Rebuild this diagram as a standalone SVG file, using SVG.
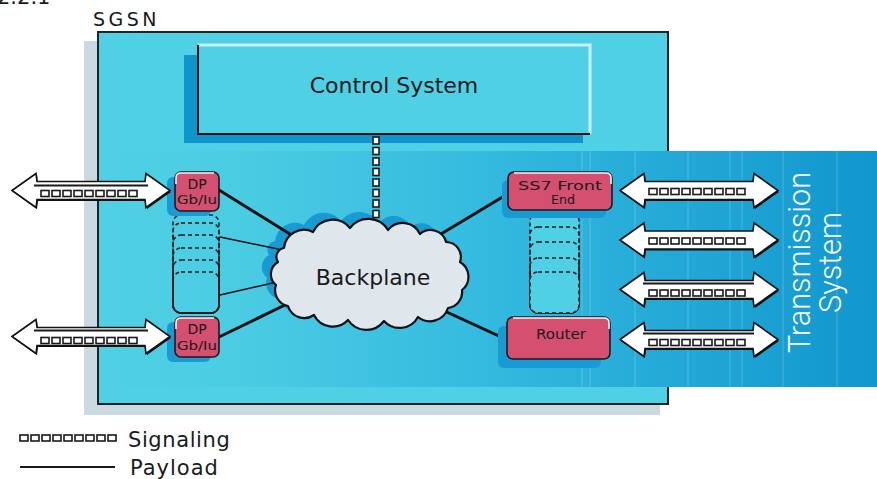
<svg xmlns="http://www.w3.org/2000/svg" width="877" height="479" viewBox="0 0 877 479">
  <defs>
    <linearGradient id="bandGrad" gradientUnits="userSpaceOnUse" x1="99" y1="0" x2="877" y2="0">
      <stop offset="0" stop-color="#4fd0e4"/>
      <stop offset="0.18" stop-color="#4acce3"/>
      <stop offset="0.5" stop-color="#34badf"/>
      <stop offset="1" stop-color="#1196ce"/>
    </linearGradient>
    <!-- double-headed block arrow, left tip at origin -->
    <path id="arrowShape" d="M0,0 L24,-17 L25,-9 L133,-9 L134,-17 L158,0 L134,17 L133,9 L25,9 L24,17 Z"/>
    <!-- row of signaling squares -->
    <g id="sigRow" class="sq">
      <rect x="29" y="-3" width="8" height="6"/>
      <rect x="40" y="-3" width="8" height="6"/>
      <rect x="51" y="-3" width="8" height="6"/>
      <rect x="62" y="-3" width="8" height="6"/>
      <rect x="73" y="-3" width="8" height="6"/>
      <rect x="84" y="-3" width="8" height="6"/>
      <rect x="95" y="-3" width="8" height="6"/>
      <rect x="106" y="-3" width="8" height="6"/>
      <rect x="117" y="-3" width="8" height="6"/>
    </g>
    <path id="cloudShape" d="M284,248 A20,20 0 0 1 313,232 A22,22 0 0 1 350,228 A23,23 0 0 1 388,230 A19,19 0 0 1 420,234 A16,16 0 0 1 446,242 A15,15 0 0 1 460,262 A17,17 0 0 1 462,290 A16,16 0 0 1 448,308 A19,19 0 0 1 418,317 A21,21 0 0 1 384,321 A22,22 0 0 1 348,320 A21,21 0 0 1 314,315 A17,17 0 0 1 288,306 A16,16 0 0 1 276,285 A14,14 0 0 1 278,262 A9,9 0 0 1 284,248 Z"/>
  </defs>
  <style>
    text { font-family: "DejaVu Sans", "Liberation Sans", sans-serif; fill: #1a1a1a; }
    .sq rect { fill: #ffffff; stroke: #1a1a1a; stroke-width: 1.6; }
    .arrow-body { fill: #ffffff; stroke: #111111; stroke-width: 1.6; stroke-linejoin: miter; }
    .arrow-shadow { fill: #111111; }
    .payload { stroke: #1a1a1a; stroke-width: 2; }
    .thick { stroke: #111111; stroke-width: 3; stroke-linecap: round; }
    .thin { stroke: #111111; stroke-width: 1.5; }
    .node { fill: #d44f70; stroke: #1a1a1a; stroke-width: 1.6; }
    .glow { fill: #1a9ad3; }
    .hl { stroke: #f4f4f4; stroke-width: 1.6; fill: none; }
    .stack { fill: #4fd0e4; stroke: #1a1a1a; stroke-width: 1.5; stroke-dasharray: 4 3; }
    .stack-open { fill: none; stroke: #1a1a1a; stroke-width: 1.5; stroke-dasharray: 4 3; }
    .vline { stroke: #ffffff; stroke-opacity: 0.14; stroke-width: 1.5; }
  </style>

  <!-- figure number, cut at the top edge -->
  <text x="-3" y="4" font-size="21">2.2.1</text>

  <!-- SGSN enclosure -->
  <g id="sgsn">
    <rect x="84" y="41" width="576" height="374" fill="#cbd9e0"/>
    <rect x="98" y="32" width="570" height="372" fill="#4fd0e4" stroke="#222222" stroke-width="2"/>
    <text x="93" y="26" font-size="19" letter-spacing="3.5">SGSN</text>
  </g>

  <!-- Transmission System band -->
  <g id="transmission-system">
    <rect x="99" y="151" width="778" height="236" fill="url(#bandGrad)"/>
    <line class="vline" x1="582" y1="151" x2="582" y2="387"/>
    <line class="vline" x1="590" y1="151" x2="590" y2="387"/>
    <line class="vline" x1="635" y1="151" x2="635" y2="387"/>
    <line class="vline" x1="688" y1="151" x2="688" y2="387"/>
    <line class="vline" x1="730" y1="151" x2="730" y2="387"/>
    <line class="vline" x1="742" y1="151" x2="742" y2="387"/>
    <line class="vline" x1="783" y1="151" x2="783" y2="387"/>
    <line class="vline" x1="837" y1="151" x2="837" y2="387"/>
    <text transform="translate(810,262.5) rotate(-90)" text-anchor="middle" font-size="31" textLength="181" lengthAdjust="spacingAndGlyphs" style="font-family:Roboto,'Liberation Sans',sans-serif;font-weight:300;fill:#ffffff">Transmission</text>
    <text transform="translate(841,262.5) rotate(-90)" text-anchor="middle" font-size="31" textLength="101" lengthAdjust="spacingAndGlyphs" style="font-family:Roboto,'Liberation Sans',sans-serif;font-weight:300;fill:#ffffff">System</text>
  </g>

  <!-- Control System -->
  <g id="control-system">
    <rect x="184" y="55" width="399" height="88" fill="#0f95cc"/>
    <rect x="198" y="45" width="392" height="89" fill="#4fd0e4"/>
    <polyline points="198,45 590,45 590,134" fill="none" stroke="#c9f1f8" stroke-width="3"/>
    <polyline points="198,45 198,134 590,134" fill="none" stroke="#111111" stroke-width="2"/>
    <text x="394" y="93" font-size="22" text-anchor="middle">Control System</text>
  </g>

  <!-- dashed link stacks -->
  <g id="dp-stack">
    <rect class="stack-open" x="173" y="215" width="46" height="98" rx="8"/>
    <rect class="stack-open" x="173" y="223" width="46" height="90" rx="8"/>
    <rect class="stack-open" x="173" y="235" width="46" height="78" rx="8"/>
    <rect class="stack-open" x="173" y="248" width="46" height="65" rx="8"/>
    <rect class="stack-open" x="173" y="260" width="46" height="53" rx="8"/>
    <rect class="stack-open" x="173" y="272" width="46" height="41" rx="8"/>
  </g>
  <g id="ss7-stack">
    <rect class="stack" x="530" y="213" width="49" height="100" rx="8"/>
    <rect class="stack-open" x="530" y="227" width="49" height="86" rx="8"/>
    <rect class="stack-open" x="530" y="242" width="49" height="71" rx="8"/>
    <rect class="stack-open" x="530" y="258" width="49" height="55" rx="8"/>
    <rect class="stack" x="530" y="272" width="49" height="41" rx="8"/>
  </g>

  <!-- blue glow behind the backplane -->
  <use href="#cloudShape" class="glow" transform="translate(-9,-7)"/>

  <!-- connectors -->
  <g id="connectors">
    <line class="thick" x1="219" y1="190" x2="298" y2="239"/>
    <line class="thin" x1="220" y1="237" x2="292" y2="252"/>
    <line class="thin" x1="220" y1="295" x2="286" y2="280"/>
    <line class="thick" x1="219" y1="337" x2="287" y2="304"/>
    <line class="thick" x1="514" y1="190" x2="436" y2="237"/>
    <line class="thick" x1="514" y1="343" x2="438" y2="308"/>
    <!-- signaling link Control System to Backplane -->
    <g class="sq">
      <rect x="373" y="137" width="6" height="7"/>
      <rect x="373" y="147.5" width="6" height="7"/>
      <rect x="373" y="158" width="6" height="7"/>
      <rect x="373" y="168.5" width="6" height="7"/>
      <rect x="373" y="179" width="6" height="7"/>
      <rect x="373" y="189.5" width="6" height="7"/>
      <rect x="373" y="200" width="6" height="7"/>
      <rect x="373" y="210.5" width="6" height="7"/>
      <rect x="373" y="221" width="6" height="7"/>
    </g>
  </g>

  <!-- Backplane -->
  <g id="backplane">
    <use href="#cloudShape" fill="#dfe6ec" stroke="#111111" stroke-width="2.2" stroke-linejoin="round"/>
    <text x="373" y="285" font-size="22" text-anchor="middle">Backplane</text>
  </g>

  <!-- DP Gb/Iu nodes -->
  <g id="dp-top">
    <rect class="glow" x="167" y="177" width="44" height="39" rx="6"/>
    <rect class="node" x="175" y="172" width="44" height="39" rx="6"/>
    <path class="hl" d="M176,184 L176,178 Q176,173 181,173 L214,173"/>
    <text x="197" y="189" font-size="14" text-anchor="middle">DP</text>
    <text x="197" y="204" font-size="12" text-anchor="middle" textLength="40" lengthAdjust="spacingAndGlyphs">Gb/Iu</text>
  </g>
  <g id="dp-bottom">
    <rect class="glow" x="167" y="322" width="44" height="40" rx="6"/>
    <rect class="node" x="175" y="317" width="44" height="40" rx="6"/>
    <path class="hl" d="M176,329 L176,323 Q176,318 181,318 L214,318"/>
    <text x="197" y="334" font-size="14" text-anchor="middle">DP</text>
    <text x="197" y="350" font-size="12" text-anchor="middle" textLength="40" lengthAdjust="spacingAndGlyphs">Gb/Iu</text>
  </g>

  <!-- SS7 Front End -->
  <g id="ss7-front-end">
    <rect class="glow" x="502" y="180" width="104" height="38" rx="6"/>
    <rect class="node" x="508" y="172" width="104" height="38" rx="6"/>
    <path class="hl" d="M514,173 L606,173 Q611,173 611,178 L611,184"/>
    <text x="560" y="190" font-size="13" text-anchor="middle" textLength="84" lengthAdjust="spacingAndGlyphs">SS7 Front</text>
    <text x="563" y="204" font-size="13" text-anchor="middle" textLength="24" lengthAdjust="spacingAndGlyphs">End</text>
  </g>

  <!-- Router -->
  <g id="router">
    <rect class="glow" x="498" y="326" width="103" height="42" rx="6"/>
    <rect class="node" x="507" y="317" width="103" height="42" rx="6"/>
    <path class="hl" d="M513,318 L604,318 Q609,318 609,323 L609,329"/>
    <text x="561" y="339" font-size="14" text-anchor="middle" textLength="50" lengthAdjust="spacingAndGlyphs">Router</text>
  </g>

  <!-- Gb/Iu interface arrows -->
  <g id="arrow-left-1" transform="translate(12,190.5)">
    <use href="#arrowShape" class="arrow-shadow" transform="translate(1,1.5)"/>
    <use href="#arrowShape" class="arrow-body"/>
    <line class="payload" x1="22" y1="-5" x2="136" y2="-5"/>
    <use href="#sigRow" transform="translate(0,3)"/>
  </g>
  <g id="arrow-left-2" transform="translate(12,336.5)">
    <use href="#arrowShape" class="arrow-shadow" transform="translate(1,1.5)"/>
    <use href="#arrowShape" class="arrow-body"/>
    <line class="payload" x1="22" y1="-6" x2="136" y2="-6"/>
    <use href="#sigRow" transform="translate(0,4)"/>
  </g>

  <!-- transmission arrows -->
  <g id="arrow-right-1" transform="translate(620,190.5)">
    <use href="#arrowShape" class="arrow-shadow" transform="translate(1,1.5)"/>
    <use href="#arrowShape" class="arrow-body"/>
    <use href="#sigRow" transform="translate(0,1)"/>
  </g>
  <g id="arrow-right-2" transform="translate(620,240)">
    <use href="#arrowShape" class="arrow-shadow" transform="translate(1,1.5)"/>
    <use href="#arrowShape" class="arrow-body"/>
    <use href="#sigRow" transform="translate(0,1)"/>
  </g>
  <g id="arrow-right-3" transform="translate(620,289.5)">
    <use href="#arrowShape" class="arrow-shadow" transform="translate(1,1.5)"/>
    <use href="#arrowShape" class="arrow-body"/>
    <line class="payload" x1="23" y1="-6" x2="134" y2="-6"/>
    <use href="#sigRow" transform="translate(0,3.5)"/>
  </g>
  <g id="arrow-right-4" transform="translate(620,339.5)">
    <use href="#arrowShape" class="arrow-shadow" transform="translate(1,1.5)"/>
    <use href="#arrowShape" class="arrow-body"/>
    <line class="payload" x1="23" y1="-6" x2="134" y2="-6"/>
    <use href="#sigRow" transform="translate(0,3)"/>
  </g>

  <!-- legend -->
  <g id="legend">
    <use href="#sigRow" transform="translate(-9,438)"/>
    <text x="128" y="447" font-size="21" letter-spacing="0.6">Signaling</text>
    <line class="payload" x1="20" y1="467" x2="115" y2="467"/>
    <text x="130" y="475" font-size="21" letter-spacing="1">Payload</text>
  </g>
</svg>
